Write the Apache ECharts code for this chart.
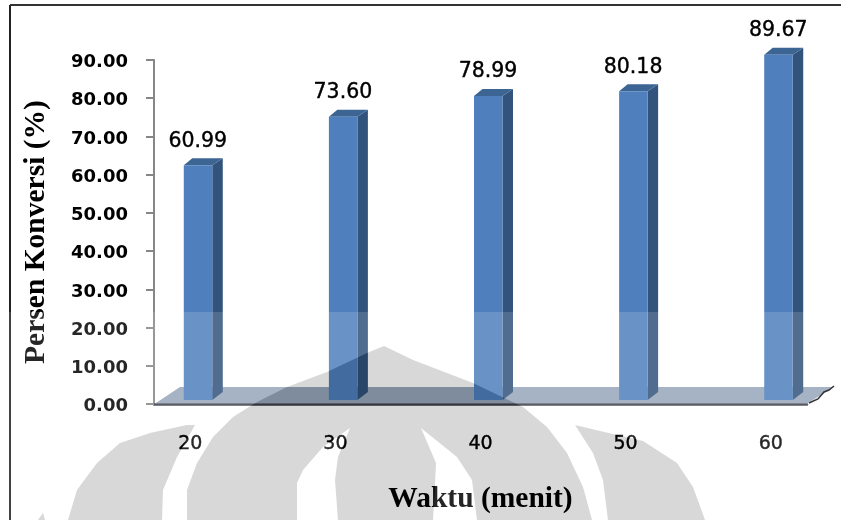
<!DOCTYPE html>
<html>
<head>
<meta charset="utf-8">
<style>html,body{margin:0;padding:0;background:#fff}#c{width:841px;height:520px}</style>
<script src="https://cdn.jsdelivr.net/npm/echarts@6/dist/echarts.min.js"></script>
</head>
<body>
<div id="c"></div>
<script>
// Conversion percentage per reaction time
const waktu = ['20', '30', '40', '50', '60'];
const konversi = [60.99, 73.60, 78.99, 80.18, 89.67];
const yMin = 0, yMax = 90, yStep = 10;

// The x axis has a tick at every half category: a blank band sits between labelled ones
const bands = waktu.flatMap((w, i) => i < waktu.length - 1 ? [w, ''] : [w]);

// Outlines of the pale emblem printed behind the page
const emblem = [
  [[68,520],[77,490],[97,463],[120,443],[150,433],[187,425],[195,425],[177,457],[163,490],[162,520]],
  [[38,520],[43,513],[45,520]],
  [[187,520],[187,490],[197,463],[213,437],[233,417],[257,402],[287,387],[327,372],[367,353],[384,346],[413,360],[473,383],[523,407],[547,427],[567,453],[583,487],[592,520],
   [477,520],[472,480],[457,457],[421,428],[436,463],[435,483],[433,520],[338,520],[335,480],[338,457],[350,428],[323,447],[303,470],[297,483],[297,520]],
  [[575,425],[600,431],[643,441],[677,463],[693,487],[705,520],[608,520],[603,480],[593,453]]
];

const FRONT = '#4F80BD', SIDE = '#32537C', TOP = '#3D6594';
const BAR_OFFSET = -6.5, BAR_W = 28.5, DEPTH_X = 10.5, DEPTH_Y = 7;

function drawBar(params, api) {
  const base = api.coord([api.value(0), 0]);
  const tip = api.coord([api.value(0), api.value(1)]);
  const l = base[0] + BAR_OFFSET, r = l + BAR_W, t = tip[1], b = base[1];
  return {
    type: 'group',
    children: [
      { type: 'polygon', shape: { points: [[r, b], [r + DEPTH_X, b - 8], [r + DEPTH_X, t - DEPTH_Y], [r, t]] }, style: { fill: SIDE } },
      { type: 'polygon', shape: { points: [[l, t], [l + DEPTH_X - 2, t - DEPTH_Y], [r + DEPTH_X, t - DEPTH_Y], [r, t]] }, style: { fill: TOP } },
      { type: 'rect', shape: { x: l, y: t, width: BAR_W, height: b - t }, style: { fill: FRONT } },
      { type: 'text', x: l + 14, y: t - 24, style: {
          text: api.value(1).toFixed(2), fill: '#000', align: 'center', verticalAlign: 'middle',
          stroke: '#000', lineWidth: 0.4,
          font: '20.5px "DejaVu Sans"' } }
    ]
  };
}

// Subtracting a flat grey: colour-burn followed by multiply of the same grey
const emblemLayers = [];
['color-burn', 'multiply'].forEach((blend, k) => {
  emblem.forEach(points => emblemLayers.push({
    type: 'polygon', z: 100 + k, silent: true,
    shape: { points, smooth: 0 },
    style: { fill: '#D8D8D8', blend }
  }));
});

const chart = echarts.init(document.getElementById('c'), null, { renderer: 'canvas' });
chart.setOption({
  animation: false,
  backgroundColor: '#fff',
  grid: [
    { left: 154, top: 60, width: 653, height: 344 },
    { left: 154, top: 53.5, width: 653, height: 346.5 }
  ],
  xAxis: [
    { type: 'category', gridIndex: 0, data: bands, boundaryGap: true,
      axisLine: { lineStyle: { color: '#3a3f4a', width: 2.5 } },
      axisTick: { alignWithLabel: false, interval: 0, length: 9, lineStyle: { color: '#868686', width: 2 } },
      axisLabel: { interval: 0, margin: 31, color: '#000', fontFamily: 'DejaVu Sans', fontSize: 19,
        textBorderColor: '#000', textBorderWidth: 0.4 },
      name: 'Waktu (menit)', nameLocation: 'middle', nameGap: 80,
      nameTextStyle: { fontFamily: 'Liberation Serif', fontWeight: 'bold', fontSize: 29.5, color: '#000' } },
    { type: 'category', gridIndex: 1, data: bands, show: false }
  ],
  yAxis: [
    { type: 'value', gridIndex: 0, min: yMin, max: yMax, interval: yStep,
      splitLine: { show: false },
      axisLine: { show: true, lineStyle: { color: '#868686', width: 2 } },
      axisTick: { show: true, length: 8, lineStyle: { color: '#868686', width: 2 } },
      axisLabel: { margin: 26, formatter: v => '{t|' + v.toFixed(2) + '}',
        rich: { t: { color: '#000', fontFamily: 'DejaVu Sans', fontSize: 18, fontWeight: 'bold', padding: [5, 0, 0, 0] } } },
      name: 'Persen Konversi (%)', nameLocation: 'middle', nameGap: 103, nameRotate: 90,
      nameTextStyle: { fontFamily: 'Liberation Serif', fontWeight: 'bold', fontSize: 29.5, color: '#000' } },
    { type: 'value', gridIndex: 1, min: yMin, max: yMax, show: false }
  ],
  series: [{
    type: 'custom', xAxisIndex: 1, yAxisIndex: 1, z: 5, clip: false,
    encode: { x: 0, y: 1 },
    data: konversi.map((v, i) => [i * 2, v]),
    renderItem: drawBar
  }],
  graphic: [
    // page frame
    { type: 'line', z: 0, shape: { x1: 10, y1: 5, x2: 10, y2: 520 }, style: { stroke: '#222', lineWidth: 2 } },
    { type: 'line', z: 0, shape: { x1: 10, y1: 5, x2: 841, y2: 5 }, style: { stroke: '#333', lineWidth: 2 } },
    // chart floor
    { type: 'polygon', z: 1, shape: { points: [[156,403],[180,387],[834,387],[808,403]] }, style: { fill: '#96A6BA' } },
    { type: 'polyline', z: 4, shape: { points: [[809,403],[818,399],[824,392],[829,390],[834,386]] }, style: { stroke: '#111', lineWidth: 1.5, fill: 'none' } },
    // pale band across the lower part of the page
    { type: 'rect', z: 90, silent: true, shape: { x: 0, y: 312, width: 841, height: 208 }, style: { fill: 'rgba(255,255,255,0.15)' } },
    ...emblemLayers
  ]
});
</script>
</body>
</html>
